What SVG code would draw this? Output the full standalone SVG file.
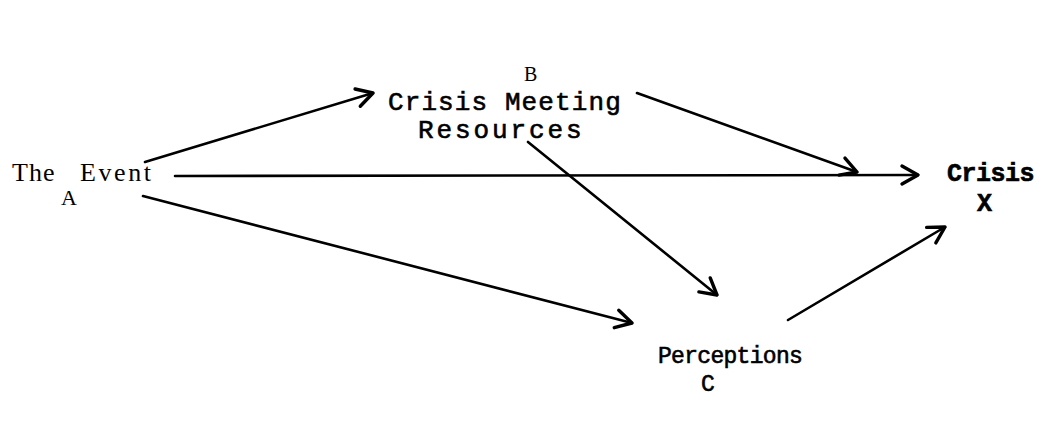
<svg xmlns="http://www.w3.org/2000/svg" width="1046" height="421" viewBox="0 0 1046 421">
<defs>
<style>
.serif{font-family:"Liberation Serif","Times New Roman",serif;fill:#000}
.mono{font-family:"Liberation Mono","Courier New",monospace;fill:#000;stroke:#000;stroke-width:0.6}
.ln{stroke:#000;stroke-width:2.6;fill:none;stroke-linecap:round}
.hd{stroke:#000;stroke-width:3.4;fill:none;stroke-linecap:round;stroke-linejoin:round}
</style>
<marker id="ah" viewBox="0 0 24 24" refX="21" refY="12" markerWidth="24" markerHeight="24" markerUnits="userSpaceOnUse" orient="auto">
<path d="M5,3 L21,12 L5,21" class="hd"/>
</marker>
</defs>
<rect width="1046" height="421" fill="#fff"/>
<g id="connectors">
<line class="ln" x1="145" y1="162" x2="373" y2="93" marker-end="url(#ah)"/>
<line class="ln" x1="637" y1="93" x2="857" y2="172" marker-end="url(#ah)"/>
<line class="ln" x1="175" y1="176" x2="918" y2="175" stroke-width="1.8" marker-end="url(#ah)"/>
<line class="ln" x1="528" y1="142" x2="717" y2="295" marker-end="url(#ah)"/>
<line class="ln" x1="143" y1="196" x2="632" y2="323" marker-end="url(#ah)"/>
<line class="ln" x1="788" y1="320" x2="945" y2="227" marker-end="url(#ah)"/>
</g>
<g id="node-A">
<text class="serif" x="12" y="181" font-size="26" letter-spacing="1">The<tspan x="80" letter-spacing="2.6">Event</tspan></text>
<text class="serif" x="61" y="205" font-size="22">A</text>
</g>
<g id="node-B">
<text class="serif" x="524" y="81" font-size="20">B</text>
<text class="mono" x="388" y="110" font-size="26" letter-spacing="1.1">Crisis Meeting</text>
<text class="mono" x="418" y="138" font-size="26" letter-spacing="2.9">Resources</text>
</g>
<g id="node-X">
<text class="mono" x="947" y="181" font-size="25" font-weight="bold" letter-spacing="-0.5" stroke-width="0.3">Crisis</text>
<text class="mono" x="977" y="211" font-size="25" font-weight="bold" stroke-width="0.3">X</text>
</g>
<g id="node-C">
<text class="mono" x="658" y="363" font-size="23" letter-spacing="-0.7">Perceptions</text>
<text class="mono" x="701" y="391" font-size="23">C</text>
</g>
</svg>
